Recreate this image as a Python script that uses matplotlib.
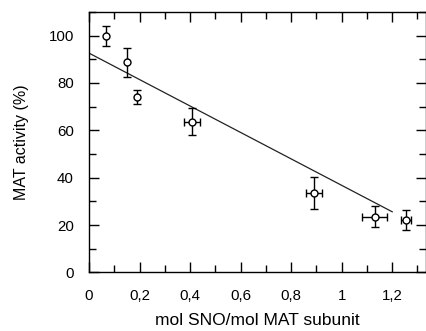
import matplotlib
matplotlib.use("Agg")
import matplotlib.pyplot as plt
from matplotlib.ticker import MultipleLocator, FuncFormatter
import numpy as np

plt.rcParams['font.family'] = ['Liberation Sans', 'DejaVu Sans']

x = [0.066, 0.149, 0.191, 0.408, 0.891, 1.130, 1.253]
y = [100.0, 88.7, 74.0, 63.7, 33.6, 23.6, 22.2]
xerr = [0.0, 0.0, 0.0, 0.033, 0.032, 0.05, 0.02]
yerr = [4.2, 6.1, 3.0, 5.7, 6.8, 4.4, 4.1]
fit_x = [0.0, 1.2]
fit_y = [92.6, 25.6]

fig = plt.figure(figsize=(4.26, 3.31), dpi=100)
ax = fig.add_axes([0.209, 0.177, 0.790, 0.787])

ax.plot(fit_x, fit_y, color='#222222', lw=0.9)
ax.errorbar(x, y, xerr=xerr, yerr=yerr, fmt='o', mfc='white', mec='black',
            ms=5, mew=1.0, ecolor='black', elinewidth=1.0, capsize=2.8, capthick=1.0,
            zorder=3)

ax.set_xlim(0, 1.332)
ax.set_ylim(0, 110)
ax.xaxis.set_major_locator(MultipleLocator(0.2))
ax.xaxis.set_minor_locator(MultipleLocator(0.1))
ax.yaxis.set_major_locator(MultipleLocator(20))
ax.yaxis.set_minor_locator(MultipleLocator(10))

def fmt(v, pos):
    s = ('%.1f' % v).rstrip('0').rstrip('.')
    return s.replace('.', ',')
ax.xaxis.set_major_formatter(FuncFormatter(fmt))

ax.tick_params(which='both', direction='in', top=True, right=True, labelsize=10.8, width=1.0)
ax.tick_params(which='major', length=7)
ax.tick_params(which='minor', length=5)
ax.tick_params(axis='x', which='major', pad=12)
ax.tick_params(axis='y', which='major', pad=11)
for s in ax.spines.values():
    s.set_linewidth(1.0)

ax.set_xlabel('mol SNO/mol MAT subunit', fontsize=12.5, labelpad=7)
ax.set_ylabel('MAT activity (%)', fontsize=11.5, labelpad=14)

fig.savefig('out.png', dpi=100)
